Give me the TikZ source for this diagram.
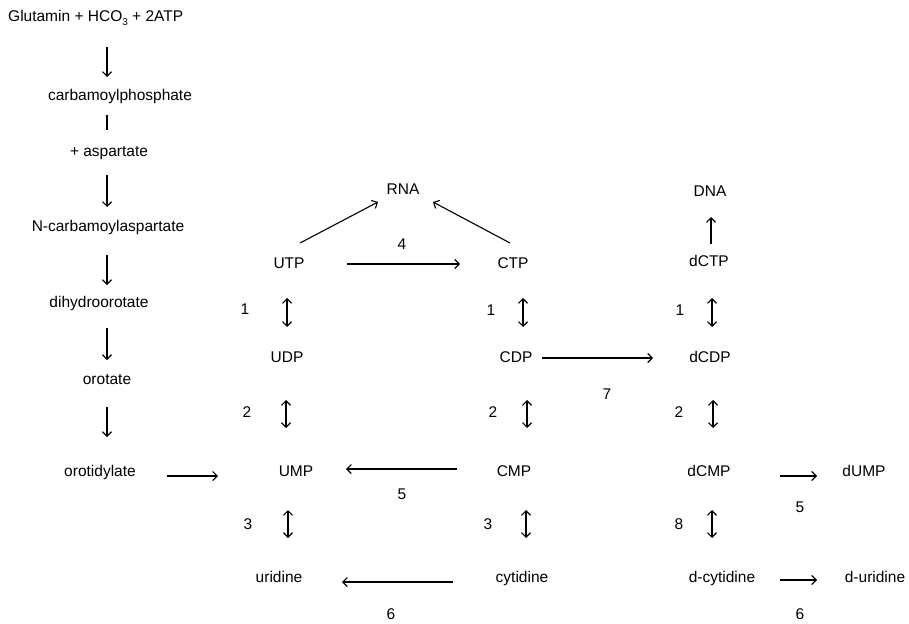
\documentclass[tikz,border=0pt]{standalone}
\usepackage{fontspec}
\setmainfont{Liberation Sans}
\usetikzlibrary{arrows,arrows.meta}
\begin{document}
\begin{tikzpicture}
[x=1pt,y=-1pt,
  metab/.style={inner sep=0pt,text height=11pt,text depth=3pt,font=\fontsize{15.5}{18}\selectfont},
  enz/.style={metab},
  conv/.style={-{Straight Barb[length=4.5pt,width=9pt]},line width=1.1pt},
  equil/.style={{Straight Barb[length=4.5pt,width=9pt]}-{Straight Barb[length=4.5pt,width=9pt]},line width=1.1pt}]
\useasboundingbox (0,0) rectangle (909,623);
%% left column: de novo synthesis
\coordinate (spine) at (107,0);
\node[metab,anchor=west] (glu) at (8,18) {Glutamin + HCO\raisebox{-4pt}{\fontsize{10}{11}\selectfont 3} + 2ATP};
\node[metab] (carb) at (120,97) {carbamoylphosphate};
\node[metab] (asp) at (109,152) {+ aspartate};
\node[metab] (ncarb) at (108,227) {N-carbamoylaspartate};
\node[metab] (dihyd) at (99,303) {dihydroorotate};
\node[metab] (orot) at (107,380) {orotate};
\node[metab] (orotid) at (100,472) {orotidylate};
%% ribonucleotides
\node[metab] (rna) at (403,190) {RNA};
\node[metab] (utp) at (289,264) {UTP};
\node[metab] (udp) at (287,358) {UDP};
\node[metab] (ump) at (296,472) {UMP};
\node[metab] (uri) at (279,578) {uridine};
\node[metab] (ctp) at (513,264) {CTP};
\node[metab] (cdp) at (516,358) {CDP};
\node[metab] (cmp) at (514,472) {CMP};
\node[metab] (cyt) at (522,578) {cytidine};
%% deoxyribonucleotides
\node[metab] (dna) at (710,192) {DNA};
\node[metab] (dctp) at (709,262) {dCTP};
\node[metab] (dcdp) at (710,358) {dCDP};
\node[metab] (dcmp) at (709,472) {dCMP};
\node[metab] (dcyt) at (722,578) {d-cytidine};
\node[metab] (dump) at (864,472) {dUMP};
\node[metab] (duri) at (875,578) {d-uridine};
%% enzyme numbers
\foreach \nodename/\x/\y/\num in {e1u/245/310/1, e2u/247/413/2, e3u/248/525/3,
  e1c/491/311/1, e2c/493/413/2, e3c/488/525/3,
  e1d/680/311/1, e2d/679/413/2, e8d/679/525/8,
  e4/402/245/4, e7/607/395/7, e5/402/495/5, e6/391/615/6,
  e5d/800/508/5, e6d/800/615/6}
{
  \node[enz] (\nodename) at (\x,\y) {\num};
}
%% left column arrows
\draw[conv,shorten <=29pt,shorten >=20pt] (glu.center -| spine) -- (carb.center -| spine);
\draw[line width=1.1pt,shorten <=18pt,shorten >=22pt] (carb.center -| spine) -- (asp.center -| spine);
\draw[conv,shorten <=23pt,shorten >=20pt] (asp.center -| spine) -- (ncarb.center -| spine);
\draw[conv,shorten <=28pt,shorten >=18pt] (ncarb.center -| spine) -- (dihyd.center -| spine);
\draw[conv,shorten <=25pt,shorten >=20pt] (dihyd.center -| spine) -- (orot.center -| spine);
\draw[conv,shorten <=27pt,shorten >=35pt] (orot.center -| spine) -- (orotid.center -| spine);
\draw[conv,shorten <=67pt,shorten >=78pt] ([yshift=-4pt]orotid.center) -- ([yshift=-4pt]ump.center);
%% interconversions
\draw[equil,shorten <=34pt,shorten >=31pt] ([xshift=-2pt]utp.center) -- (udp.center);
\draw[equil,shorten <=42pt,shorten >=44pt] ([xshift=-1pt]udp.center) -- ([xshift=-10pt]ump.center);
\draw[equil,shorten <=38pt,shorten >=40pt] ([xshift=-8pt]ump.center) -- ([xshift=9pt]uri.center);
\draw[equil,shorten <=34pt,shorten >=31pt] ([xshift=10pt]ctp.center) -- ([xshift=7pt]cdp.center);
\draw[equil,shorten <=42pt,shorten >=44pt] ([xshift=11pt]cdp.center) -- ([xshift=13pt]cmp.center);
\draw[equil,shorten <=38pt,shorten >=40pt] ([xshift=12pt]cmp.center) -- ([xshift=4pt]cyt.center);
\draw[equil,shorten <=36pt,shorten >=31pt] ([xshift=3pt]dctp.center) -- ([xshift=2pt]dcdp.center);
\draw[equil,shorten <=42pt,shorten >=44pt] ([xshift=3pt]dcdp.center) -- ([xshift=4pt]dcmp.center);
\draw[equil,shorten <=38pt,shorten >=40pt] ([xshift=3pt]dcmp.center) -- ([xshift=-10pt]dcyt.center);
%% synthesis of RNA and DNA
\draw[conv] ([shift={(11,-21)}]utp.center) -- ([shift={(-25,12)}]rna.center);
\draw[conv] ([shift={(-3,-21)}]ctp.center) -- ([shift={(30,12)}]rna.center);
\draw[conv,shorten <=18pt,shorten >=25pt] ([xshift=2pt]dctp.center) -- ([xshift=1pt]dna.center);
%% horizontal conversions
\draw[conv,shorten <=58pt,shorten >=53pt] (utp.center) -- (ctp.center);
\draw[conv,shorten <=26pt,shorten >=57pt] (cdp.center) -- (dcdp.center);
\draw[conv,shorten <=57pt,shorten >=50pt] ([yshift=3pt]cmp.center) -- ([yshift=3pt]ump.center);
\draw[conv,shorten <=69pt,shorten >=63pt] ([yshift=-4pt]cyt.center) -- ([yshift=-4pt]uri.center);
\draw[conv,shorten <=71pt,shorten >=47pt] ([yshift=-4pt]dcmp.center) -- ([yshift=-4pt]dump.center);
\draw[conv,shorten <=58pt,shorten >=58pt] ([yshift=-2pt]dcyt.center) -- ([yshift=-2pt]duri.center);
\end{tikzpicture}
\end{document}
